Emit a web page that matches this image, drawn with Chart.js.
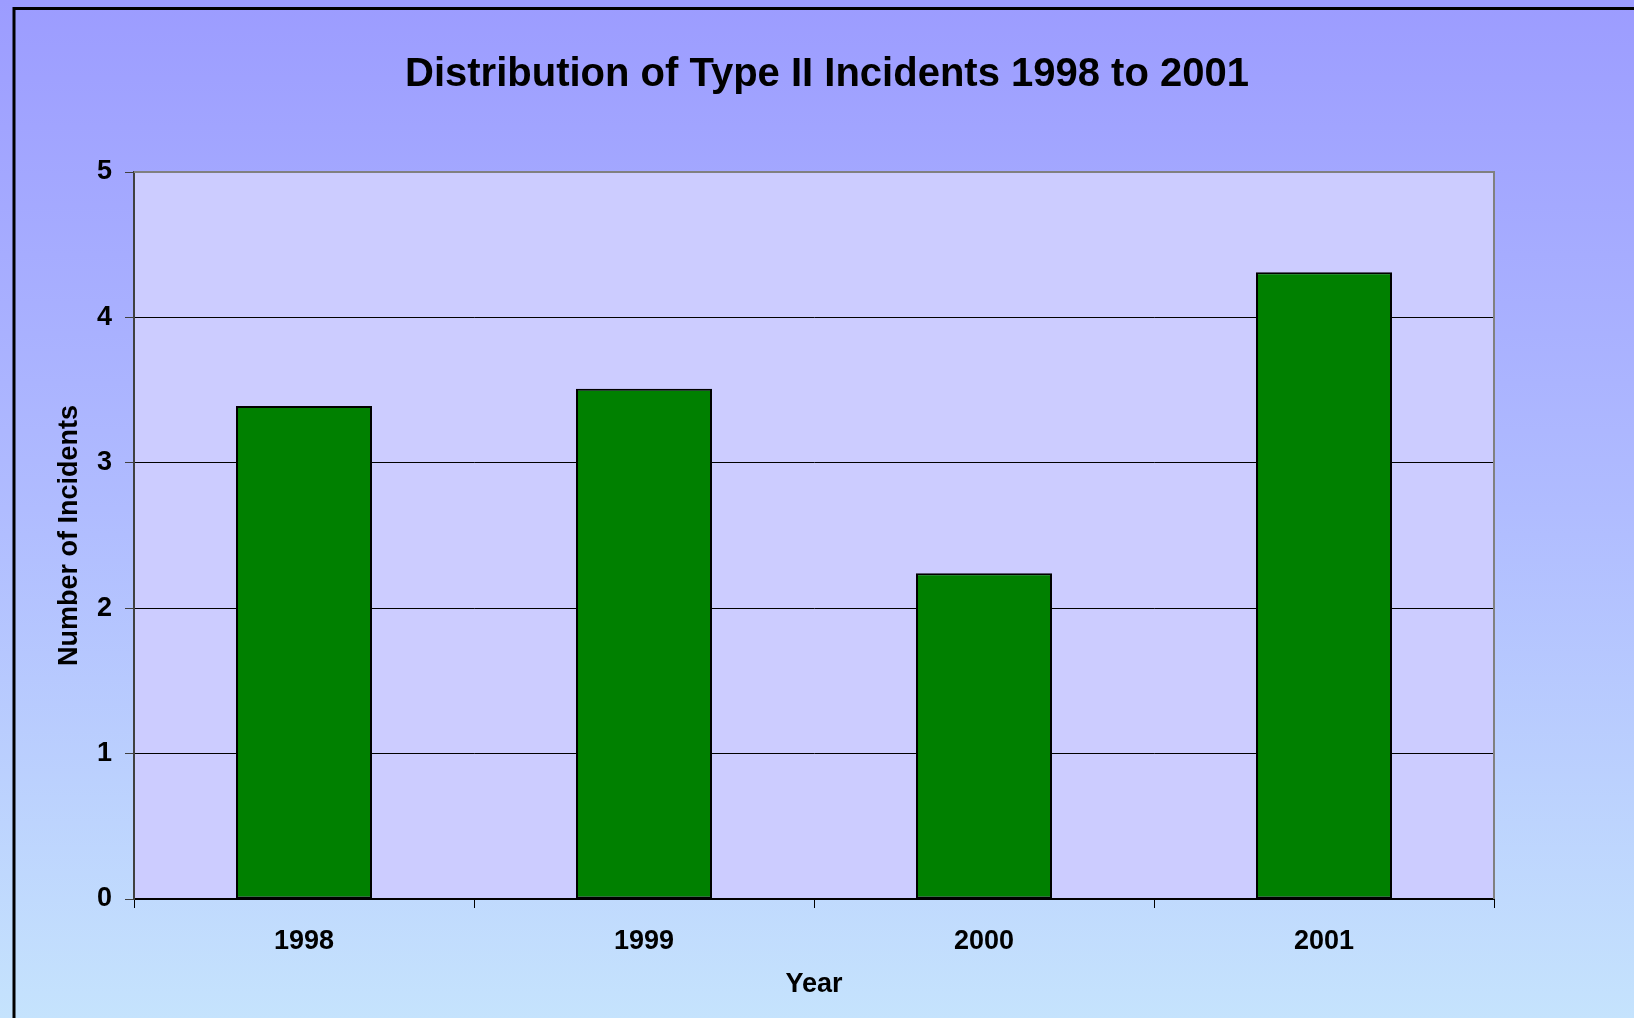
<!DOCTYPE html>
<html>
<head>
<meta charset="utf-8">
<title>Type II Incidents</title>
<script src="https://cdn.jsdelivr.net/npm/chart.js@4.4.1/dist/chart.umd.min.js"></script>
<style>
    html, body { margin: 0; padding: 0; background: #c4e2fd; overflow: hidden; }
    canvas { display: block; }
</style>
</head>
<body>
<canvas id="incidents-chart" width="1634" height="1018"></canvas>
<script>
// data
const years = ['1998', '1999', '2000', '2001'];
const incidents = [3.39, 3.51, 2.24, 4.31];
const yTicks = [0, 1, 2, 3, 4, 5];

const FONT = 'Arial, "Liberation Sans", sans-serif';

// background gradient, plot area fill and frame lines
const backdrop = {
    id: 'backdrop',
    beforeDraw(chart) {
        const {ctx, width, height, chartArea: a} = chart;
        ctx.save();
        const g = ctx.createLinearGradient(0, 0, 0, height);
        g.addColorStop(0, '#9c9cff');
        g.addColorStop(0.5, '#b0bcff');
        g.addColorStop(1, '#c5e3fd');
        ctx.fillStyle = g;
        ctx.fillRect(0, 0, width, height);
        ctx.fillStyle = '#ccccff';
        ctx.fillRect(a.left, a.top, a.right - a.left, a.bottom - a.top);
        ctx.restore();
    },
    afterDraw(chart) {
        const {ctx, width, height, chartArea: a} = chart;
        ctx.save();
        // plot border top / right
        ctx.strokeStyle = '#808080';
        ctx.lineWidth = 2;
        ctx.beginPath();
        ctx.moveTo(a.left, a.top);
        ctx.lineTo(a.right, a.top);
        ctx.lineTo(a.right, a.bottom);
        ctx.stroke();
        // outer frame, left and top only
        ctx.strokeStyle = '#000';
        ctx.lineWidth = 3;
        ctx.beginPath();
        ctx.moveTo(14, height);
        ctx.lineTo(14, 8.5);
        ctx.lineTo(width, 8.5);
        ctx.stroke();
        ctx.restore();
    }
};

const data = {
    labels: years,
    datasets: [{
        data: incidents,
        backgroundColor: '#008000',
        borderColor: '#000000',
        borderWidth: 2,
        borderSkipped: false,
        barPercentage: 0.4,
        categoryPercentage: 1.0
    }]
};

const config = {
    type: 'bar',
    data,
    options: {
        responsive: false,
        animation: false,
        layout: {padding: {left: 20, right: 0, top: 0, bottom: 0}},
        plugins: {
            legend: {display: false},
            tooltip: {enabled: false},
            title: {
                display: true,
                text: 'Distribution of Type II Incidents 1998 to 2001',
                color: '#000',
                font: {family: FONT, size: 40, weight: 'bold'},
                padding: {top: 51, bottom: 73}
            }
        },
        scales: {
            x: {
                offset: true,
                grid: {
                    offset: true,
                    drawOnChartArea: false,
                    color: '#000',
                    tickLength: 9
                },
                border: {color: '#000', width: 2},
                ticks: {
                    color: '#000',
                    padding: 17,
                    font: {family: FONT, size: 27, weight: 'bold'}
                },
                title: {
                    display: true,
                    text: 'Year',
                    color: '#000',
                    font: {family: FONT, size: 27, weight: 'bold'},
                    padding: {top: 0, bottom: 17}
                },
                afterFit: (s) => { s.height = 119; }
            },
            y: {
                min: yTicks[0],
                max: yTicks[yTicks.length - 1],
                afterBuildTicks: (s) => { s.ticks = yTicks.map(v => ({value: v})); },
                grid: {
                    color: (c) => c.tick && c.tick.value === 5 ? '#808080' : '#000',
                    tickColor: '#404040',
                    tickLength: 9
                },
                border: {color: '#404040', width: 2},
                ticks: {
                    color: '#000',
                    padding: 13,
                    font: {family: FONT, size: 27, weight: 'bold'}
                },
                title: {
                    display: true,
                    text: 'Number of Incidents',
                    color: '#000',
                    font: {family: FONT, size: 27, weight: 'bold'},
                    padding: {top: 33, bottom: 0}
                },
                afterFit: (s) => { s.width = 114; }
            },
            spacer: {
                position: 'right',
                grid: {display: false},
                border: {display: false},
                ticks: {display: false},
                afterFit: (s) => { s.width = 140; }
            }
        }
    },
    plugins: [backdrop]
};

const incidentsChart = new Chart(
    document.getElementById('incidents-chart'),
    config
);
</script>
</body>
</html>
